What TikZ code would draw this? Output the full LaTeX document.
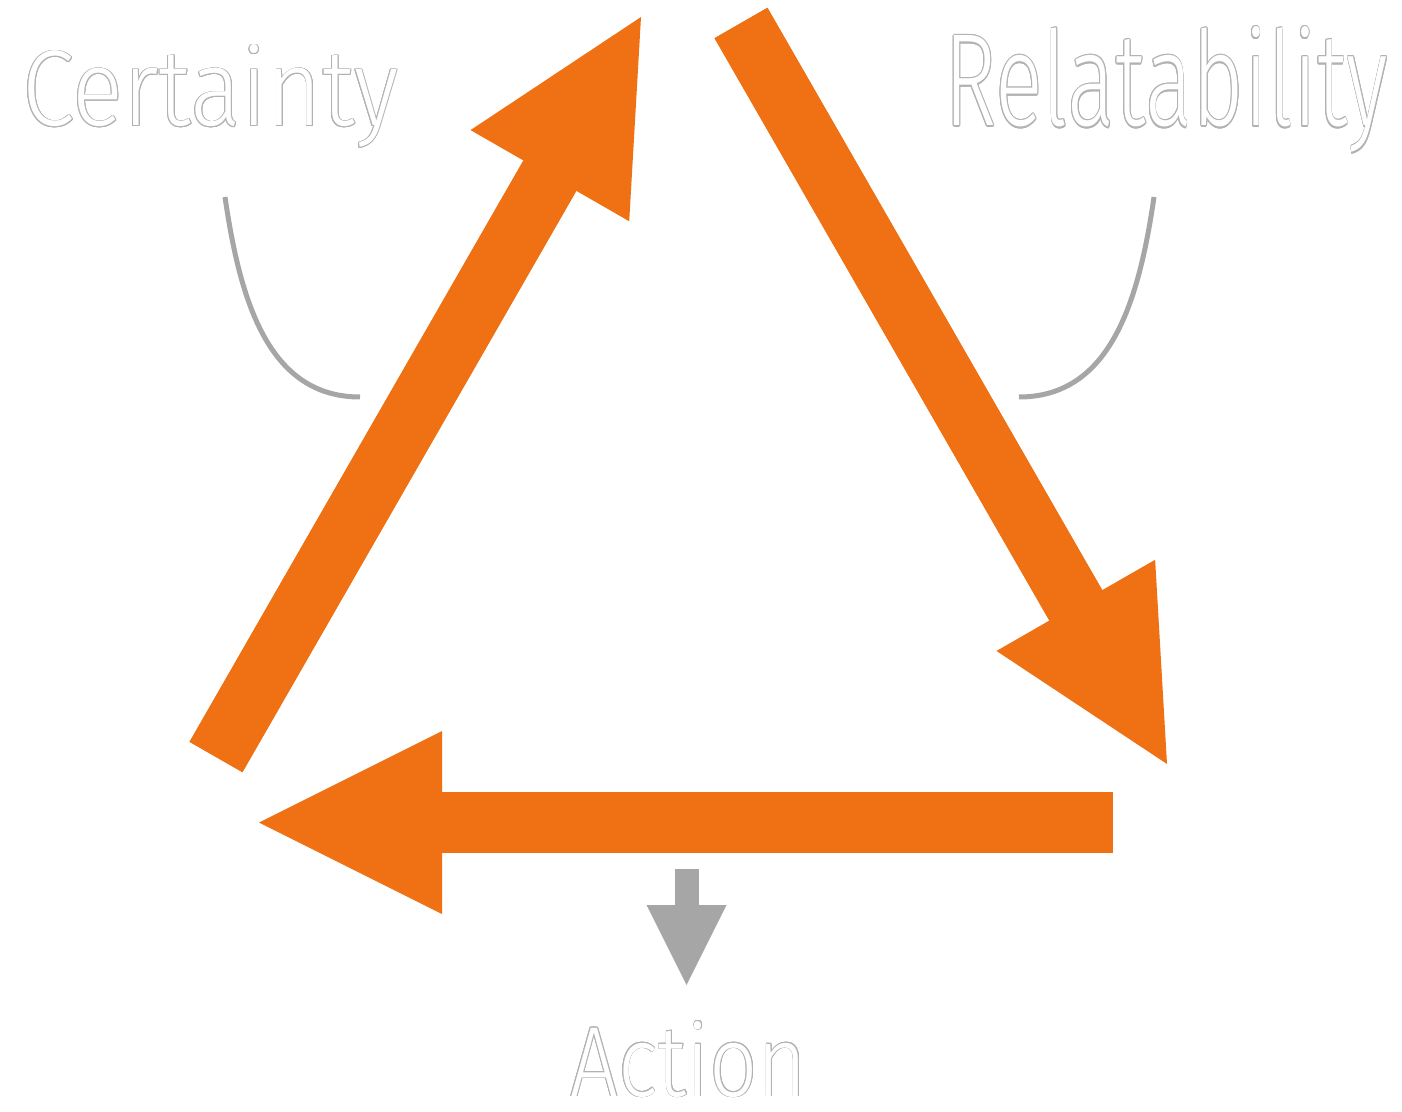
\documentclass[tikz,border=0pt]{standalone}
\usepackage{fontspec}
\setmainfont{Fira Sans Light}
\usepackage[copies]{contour}
\contourlength{0.45pt}
\usetikzlibrary{arrows.meta}
\definecolor{cycleorange}{RGB}{239,113,19}
\definecolor{notegray}{RGB}{166,166,166}
\newcommand{\handword}[3]{{\fontsize{50}{50}\selectfont\color{white}\resizebox{#1}{#2}{\contour{black!30}{#3}}}}

\begin{document}
\begin{tikzpicture}[x=0.5pt,y=-0.5pt,
    bigarrow/.style={draw=cycleorange,line width=30.5pt,
      -{Triangle[length=91.5pt,width=91.5pt,line width=0pt]},
      preaction={draw=cycleorange,line width=30.5pt,-,shorten >=89pt}},
    smallarrow/.style={draw=notegray,line width=12pt,
      -{Triangle[length=40pt,width=40pt,line width=0pt]},
      preaction={draw=notegray,line width=12pt,-,shorten >=38pt}},
    brace/.style={draw=notegray,line width=2.5pt},
    word/.style={inner sep=0pt,anchor=base west}]
    \useasboundingbox (0,0) rectangle (1402,1112);
    \coordinate (certaintyfoot) at (216,757);
    \coordinate (certaintytip) at (641,17);
    \coordinate (relatefoot) at (741,23);
    \coordinate (relatetip) at (1167,764);
    \coordinate (actionfoot) at (1113,822.5);
    \coordinate (actiontip) at (259,822.5);
    \coordinate (dropfoot) at (686.5,869);
    \coordinate (droptip) at (686.5,985);
    \draw[bigarrow] (certaintyfoot) -- (certaintytip);
    \draw[bigarrow] (relatefoot) -- (relatetip);
    \draw[bigarrow] (actionfoot) -- (actiontip);
    \draw[smallarrow] (dropfoot) -- (droptip);
    \draw[brace] (225,197) .. controls (240,300) and (268,397) .. (360,397);
    \draw[brace] (1154,197) .. controls (1139,300) and (1111,397) .. (1019,397);
    \node[word] (certainty) at (22,126) {\handword{188pt}{40.5pt}{Certainty}};
    \node[word] (relatability) at (944,126) {\handword{222pt}{49.5pt}{Relatability}};
    \node[word] (action) at (570,1096) {\handword{118.5pt}{37.5pt}{Action}};
\end{tikzpicture}
\end{document}
